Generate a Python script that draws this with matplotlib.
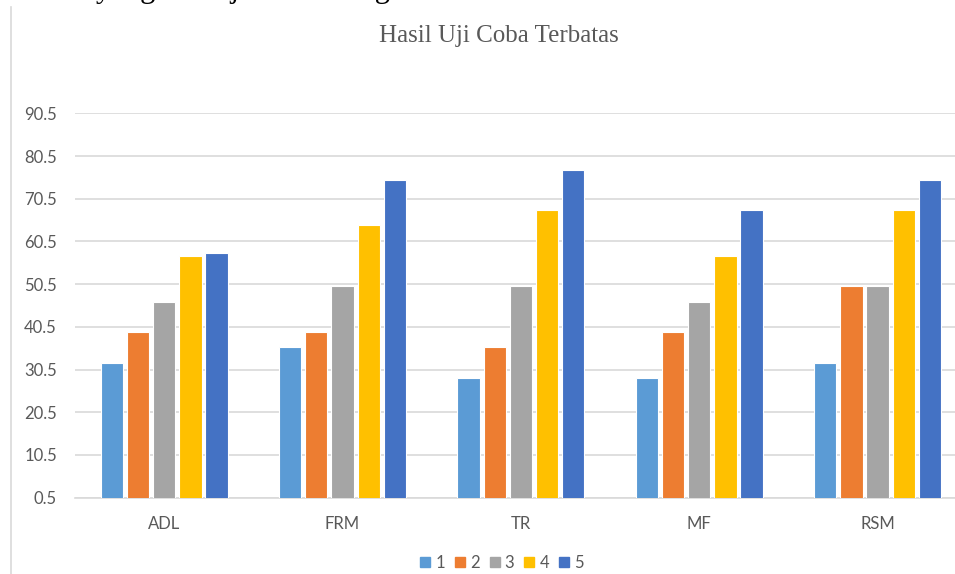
import numpy as np
import matplotlib
matplotlib.use("Agg")
from matplotlib import pyplot as plt
from matplotlib.lines import Line2D
from matplotlib.patches import Rectangle

# kategori dan nilai tiap seri (1-5)
kategori = ["ADL", "FRM", "TR", "MF", "RSM"]
seri = ["1", "2", "3", "4", "5"]
nilai_1 = [32.1, 35.7, 28.6, 28.6, 32.1]
nilai_2 = [39.3, 39.3, 35.7, 39.3, 50.0]
nilai_3 = [46.4, 50.0, 50.0, 46.4, 50.0]
nilai_4 = [57.1, 64.3, 67.9, 57.1, 67.9]
nilai_5 = [57.9, 75.0, 77.2, 67.9, 75.0]
y_ticks = [0.5, 10.5, 20.5, 30.5, 40.5, 50.5, 60.5, 70.5, 80.5, 90.5]

warna = ["#5B9BD5", "#ED7D31", "#A5A5A5", "#FFC000", "#4472C4"]
abu = "#595959"
garis = "#D9D9D9"

W, H = 955, 574
fig = plt.figure(figsize=(W / 100, H / 100), dpi=100)

# sisa baris teks di atas grafik (terpotong di tepi atas)
fig.text(96 / W, 1 + 3 / H, "yang bekerja sama dengan", fontsize=22,
         family="Liberation Serif", color="black", va="baseline", ha="left")

# garis tepi kiri area grafik
fig.add_artist(Line2D([11 / W, 11 / W], [0, 1 - 7 / H], color=garis, lw=1.2))

ax = fig.add_axes([75 / W, 1 - 497.7 / H, 1 - 75 / W, (497.7 - 113.3) / H])

x = np.arange(len(kategori))
jarak = 0.1468
lebar = 0.125
semua = [nilai_1, nilai_2, nilai_3, nilai_4, nilai_5]
for i, (vals, c) in enumerate(zip(semua, warna)):
    ax.bar(x + (i - 2) * jarak, vals, width=lebar, color=c,
           edgecolor="white", linewidth=0.8, zorder=3)

ax.set_ylim(0.5, 90.5)
ax.set_xlim(-0.5, (W - 163.5) / 178.5)
ax.set_yticks(y_ticks)
ax.set_yticklabels([f"{v:.1f}" for v in y_ticks])
ax.set_xticks(x)
ax.set_xticklabels(kategori)
ax.tick_params(axis="both", length=0, labelsize=12, labelcolor=abu)
ax.tick_params(axis="y", pad=13)
ax.tick_params(axis="x", pad=13)
for lbl in ax.get_xticklabels() + ax.get_yticklabels():
    lbl.set_family("Lato")

ax.grid(axis="y", color=garis, lw=1.2, zorder=0)
for s in ["top", "right", "left"]:
    ax.spines[s].set_visible(False)
ax.spines["bottom"].set_color(garis)
ax.spines["bottom"].set_linewidth(1.2)

fig.text(499 / W, 1 - 36 / H, "Hasil Uji Coba Terbatas", fontsize=18,
         family="Liberation Serif", color=abu, ha="center", va="center")

# legenda di bawah
handles = [Rectangle((0, 0), 1, 1, color=c) for c in warna]
leg = fig.legend(handles, seri, loc="center", bbox_to_anchor=(502 / W, 1 - 563 / H),
                 ncol=5, frameon=False, handlelength=0.6, handleheight=0.6,
                 handletextpad=0.3, columnspacing=0.6,
                 prop={"family": "Lato", "size": 12})
for t in leg.get_texts():
    t.set_color(abu)

fig.savefig("out.png", dpi=100)
